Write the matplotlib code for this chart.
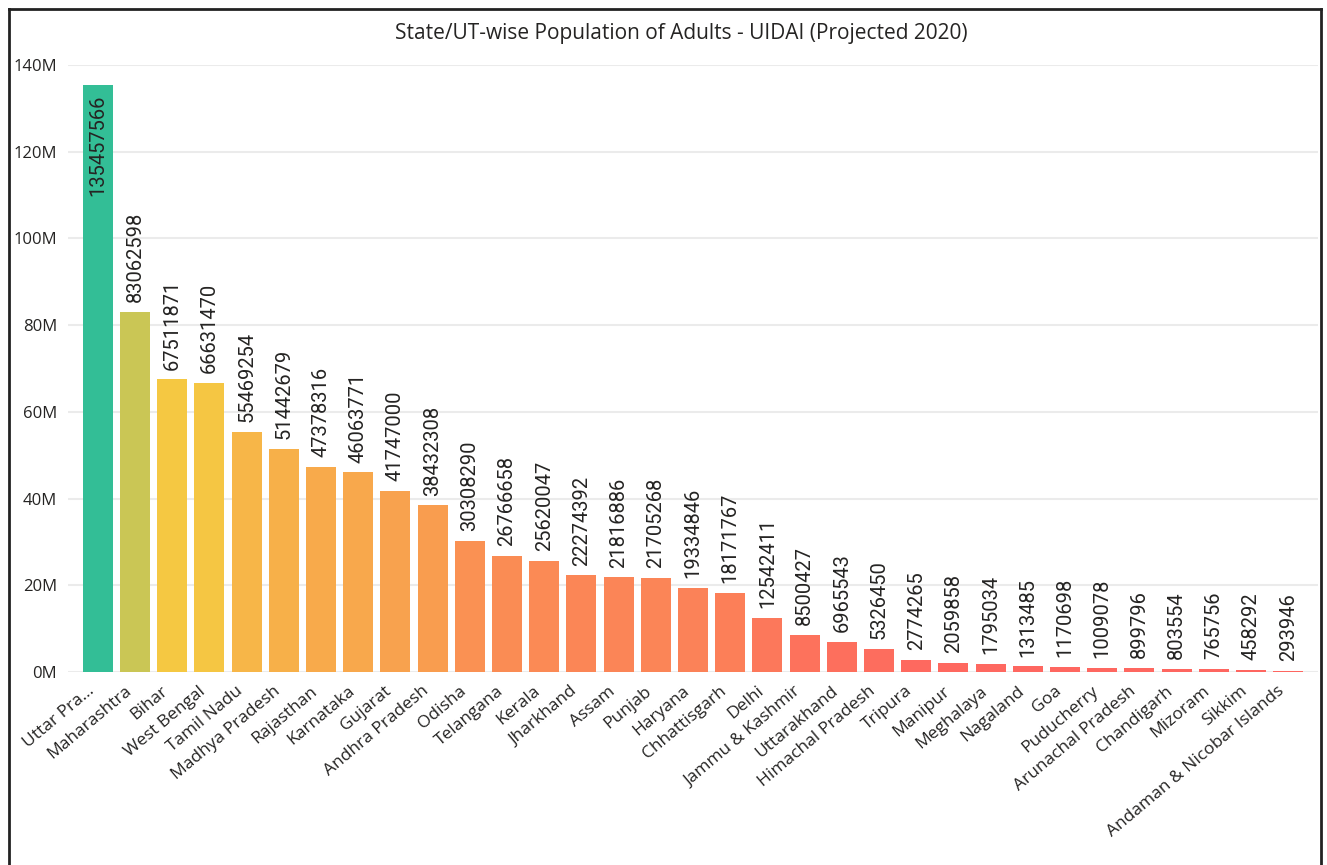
import matplotlib
matplotlib.use("Agg")
import matplotlib.pyplot as plt
from matplotlib.colors import LinearSegmentedColormap, Normalize
from matplotlib.lines import Line2D
from matplotlib.transforms import ScaledTranslation

states = [
    "Uttar Pra...", "Maharashtra", "Bihar", "West Bengal", "Tamil Nadu",
    "Madhya Pradesh", "Rajasthan", "Karnataka", "Gujarat", "Andhra Pradesh",
    "Odisha", "Telangana", "Kerala", "Jharkhand", "Assam", "Punjab",
    "Haryana", "Chhattisgarh", "Delhi", "Jammu & Kashmir", "Uttarakhand",
    "Himachal Pradesh", "Tripura", "Manipur", "Meghalaya", "Nagaland", "Goa",
    "Puducherry", "Arunachal Pradesh", "Chandigarh", "Mizoram", "Sikkim",
    "Andaman & Nicobar Islands",
]
adults = [
    135457566, 83062598, 67511871, 66631470, 55469254, 51442679, 47378316,
    46063771, 41747000, 38432308, 30308290, 26766658, 25620047, 22274392,
    21816886, 21705268, 19334846, 18171767, 12542411, 8500427, 6965543,
    5326450, 2774265, 2059858, 1795034, 1313485, 1170698, 1009078, 899796,
    803554, 765756, 458292, 293946,
]
y_ticks = [0, 20e6, 40e6, 60e6, 80e6, 100e6, 120e6, 140e6]

title = "State/UT-wise Population of Adults - UIDAI (Projected 2020)"
text_color = "#252423"

# diverging scale: low red, centre yellow, high green
cmap = LinearSegmentedColormap.from_list(
    "div", [(0.0, "#FE6660"), (0.5, "#F5C842"), (1.0, "#33BE96")]
)
norm = Normalize(vmin=min(adults), vmax=max(adults))
colors = [cmap(norm(v)) for v in adults]

fig = plt.figure(figsize=(13.27, 8.65), dpi=100)
ax = fig.add_axes([68 / 1327, 193 / 865, 1250 / 1327, 607 / 865])

x = list(range(len(states)))
ax.bar(x, adults, width=0.81, color=colors, zorder=3)

ax.set_xlim(-0.8, len(states) - 0.2)
ax.set_ylim(0, 140e6)
ax.set_yticks(y_ticks)
ax.set_yticklabels([f"{v / 1e6:.0f}M" for v in y_ticks], family="Open Sans")
ax.grid(axis="y", color="#EBEBEB", linewidth=1.5, zorder=0)
for s in ax.spines.values():
    s.set_visible(False)
ax.tick_params(axis="y", length=0, pad=8, labelsize=12, labelcolor=text_color)
ax.tick_params(axis="x", length=0, pad=8)

ax.set_xticks(x)
ax.set_xticklabels(states, rotation=40, ha="right", va="top",
                   rotation_mode="anchor", fontsize=12.5, color=text_color,
                   family="Open Sans")
shift = ScaledTranslation(-11 / 100, 0, fig.dpi_scale_trans)
for lbl in ax.get_xticklabels():
    lbl.set_transform(lbl.get_transform() + shift)

# value labels: inside the tallest bar, above the rest
for i, v in enumerate(adults):
    inside = v == max(adults)
    ax.annotate(f"{v}", (i, v), xytext=(0, -7 if inside else 7),
                textcoords="offset points", rotation=90, ha="center",
                va="top" if inside else "bottom", fontsize=14.5,
                color=text_color, family="Roboto")

fig.text(681 / 1327, 1 - 33 / 865, title, ha="center", va="center",
         fontsize=15, color=text_color, family="Open Sans")

# frame around the visual (left, top, right edges)
W, H = 1327, 865
frame = dict(color="#222222", linewidth=2, transform=fig.transFigure)
fig.add_artist(Line2D([9 / W, 9 / W], [0, 1 - 9 / H], **frame))
fig.add_artist(Line2D([9 / W, 1321 / W], [1 - 9 / H, 1 - 9 / H], **frame))
fig.add_artist(Line2D([1321 / W, 1321 / W], [0, 1 - 9 / H], **frame))

fig.savefig("out.png", dpi=100)
